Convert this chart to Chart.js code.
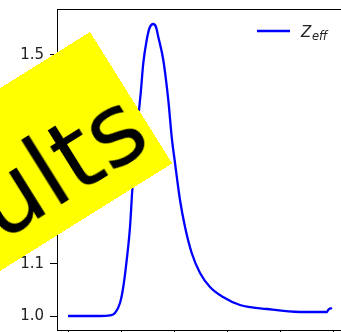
<!DOCTYPE html>
<html>
<head>
<meta charset="utf-8">
<script src="https://cdn.jsdelivr.net/npm/chart.js@4.4.0/dist/chart.umd.min.js"></script>
<style>
  html, body { margin: 0; padding: 0; background: #fff; overflow: hidden; }
  body { width: 341px; height: 332px; position: relative; }
  #wrap { position: absolute; left: 0; top: 0; width: 350px; height: 340px; }
  #banner {
    position: absolute; left: -430px; top: 32px; width: 520px; height: 155px;
    background: #ffff00; color: #000; box-sizing: border-box;
    transform-origin: 100% 0; transform: rotate(-32deg);
    font-family: "DejaVu Sans", sans-serif; font-size: 100px; line-height: 193px;
    text-align: right; padding-right: 6px; white-space: nowrap;
  }
</style>
</head>
<body>
<div id="wrap"><canvas id="myChart"></canvas></div>
<div id="banner">Results</div>
<script>
const xValues = [0, 0.604, 0.792, 0.887, 0.981, 1.043, 1.108, 1.170, 1.213, 1.274, 1.340, 1.372, 1.421, 1.485, 1.538, 1.609, 1.660, 1.704, 1.798, 1.892, 1.957, 2.019, 2.113, 2.208, 2.334, 2.491, 2.679, 2.925, 3.245, 3.755, 4.377, 4.887, 4.915, 4.981];
const zEff = [1.0, 1.0, 1.001, 1.0057, 1.0249, 1.0556, 1.1073, 1.1705, 1.2414, 1.318, 1.3946, 1.4272, 1.4847, 1.5287, 1.5517, 1.5594, 1.5536, 1.5345, 1.4904, 1.4138, 1.3429, 1.2931, 1.2222, 1.1705, 1.1207, 1.0824, 1.0556, 1.0364, 1.0211, 1.0134, 1.0077, 1.0077, 1.0125, 1.0153];
const yTicks = [1.0, 1.1, 1.2, 1.3, 1.4, 1.5];
const xTicks = [0, 1, 2, 3, 4, 5];

const points = xValues.map(function (x, i) { return { x: x, y: zEff[i] }; });

// top spine + legend with subscript
const extras = {
  id: "extras",
  afterDraw: function (chart) {
    const c = chart.ctx;
    const a = chart.chartArea;
    c.save();
    c.strokeStyle = "#000";
    c.lineWidth = 1;
    c.beginPath();
    c.moveTo(a.left, a.top + 0.5);
    c.lineTo(a.right, a.top + 0.5);
    c.lineTo(a.right + 0.5, a.bottom);
    c.stroke();

    c.strokeStyle = "#0000ff";
    c.lineWidth = 2.3;
    c.beginPath();
    c.moveTo(257, 31);
    c.lineTo(290, 31);
    c.stroke();

    c.fillStyle = "#222";
    c.textBaseline = "alphabetic";
    c.font = "oblique 15px 'DejaVu Sans'";
    c.fillText("Z", 301, 37);
    c.font = "oblique 11.5px 'DejaVu Sans'";
    c.fillText("eff", 312, 40);
    c.restore();
  }
};

const ctx = document.getElementById("myChart");
const myChart = new Chart(ctx, {
  type: "line",
  data: {
    datasets: [
      {
        label: "Zeff",
        data: points,
        borderColor: "#0000ff",
        borderWidth: 2.3,
        pointRadius: 0,
        fill: false,
        cubicInterpolationMode: "monotone",
      },
    ],
  },
  options: {
    responsive: true,
    maintainAspectRatio: false,
    animation: false,
    layout: { padding: { top: 9, right: 4, left: 0, bottom: 0 } },
    plugins: { legend: { display: false }, tooltip: { enabled: false } },
    scales: {
      x: {
        type: "linear",
        min: -11 / 53,
        max: 5.245,
        afterBuildTicks: function (s) { s.ticks = xTicks.map(function (v) { return { value: v }; }); },
        afterFit: function (s) { s.height = 10; s.paddingLeft = 0; s.paddingRight = 0; },
        ticks: { display: false },
        grid: { drawOnChartArea: false, tickLength: 7, color: "#000", tickWidth: 1 },
        border: { display: true, color: "#000", width: 1 },
      },
      y: {
        min: 1 - 14 / 522,
        max: 1 + 307 / 522,
        afterBuildTicks: function (s) { s.ticks = yTicks.map(function (v) { return { value: v }; }); },
        afterFit: function (s) { s.width = 57; s.paddingTop = 0; s.paddingBottom = 0; },
        ticks: {
          color: "#222",
          padding: 6,
          font: { family: "DejaVu Sans", size: 15 },
          callback: function (v) { return v.toFixed(1); },
        },
        grid: { drawOnChartArea: false, tickLength: 7, color: "#000", tickWidth: 1 },
        border: { display: true, color: "#000", width: 1 },
      },
    },
  },
  plugins: [extras],
});
</script>
</body>
</html>
